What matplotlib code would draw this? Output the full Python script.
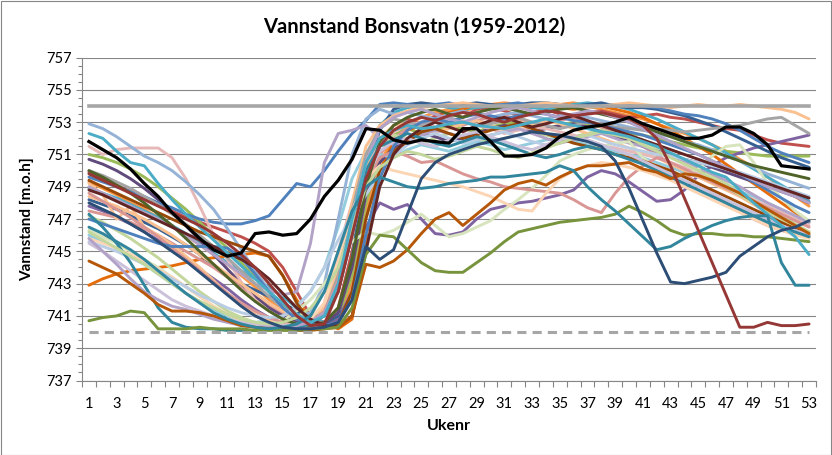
import matplotlib
matplotlib.use("Agg")
import matplotlib.pyplot as plt
from matplotlib.patches import Rectangle
import numpy as np

weeks = list(range(1, 54))
x_labels = [str(w) for w in range(1, 54, 2)]
title = "Vannstand Bonsvatn (1959-2012)"
y_label = "Vannstand [m.o.h]"
x_label = "Ukenr"
hrv = 754.0
lrv = 740.0

s01 = [749.8, 749.4, 749.0, 748.6, 748.2, 747.8, 747.4, 747.0, 746.6, 746.1,
       745.5, 744.8, 744.0, 743.0, 742.0, 741.0, 740.4, 740.5, 742.5, 746.0,
       749.5, 751.5, 752.5, 753.0, 753.3, 753.1, 753.4, 753.6, 753.5, 753.2,
       753.0, 753.3, 753.5, 753.7, 753.6, 753.4, 753.5, 753.6, 753.4, 753.2,
       752.8, 752.0, 750.3, 748.3, 746.3, 744.3, 742.3, 740.3, 740.3, 740.6,
       740.4, 740.4, 740.5]
s02 = [748.0, 747.6, 747.2, 746.7, 746.2, 745.6, 745.0, 744.4, 743.7, 743.0,
       742.3, 741.6, 741.0, 740.6, 740.3, 740.2, 740.2, 740.3, 740.6, 742.0,
       745.3, 744.5, 745.1, 747.3, 749.5, 750.5, 751.0, 751.3, 751.6, 751.8,
       752.0, 752.2, 752.4, 752.3, 752.2, 752.0, 751.8, 751.5, 750.6, 748.9,
       746.9, 744.9, 743.1, 743.0, 743.2, 743.4, 743.7, 744.7, 745.3, 745.9,
       746.3, 746.5, 746.9]
s03 = [746.5, 746.1, 745.6, 745.1, 744.5, 743.8, 743.1, 742.4, 741.8, 741.2,
       740.8, 740.5, 740.3, 740.2, 740.3, 740.5, 741.0, 742.5, 745.0, 747.5,
       749.0, 749.6, 749.3, 749.0, 748.9, 749.0, 749.2, 749.3, 749.4, 749.6,
       749.6, 749.7, 749.8, 749.9, 750.3, 750.0, 749.0, 748.2, 747.5, 746.7,
       745.9, 745.1, 745.3, 745.8, 746.2, 746.6, 746.9, 747.1, 747.2, 747.2,
       744.3, 742.9, 742.9]
s04 = [752.3, 752.0, 751.2, 750.5, 750.3, 749.2, 748.2, 747.3, 746.5, 745.7,
       744.9, 744.1, 743.3, 742.5, 741.8, 741.1, 740.6, 741.0, 743.0, 747.0,
       750.5, 752.0, 752.5, 752.8, 752.6, 752.7, 752.9, 753.0, 752.8, 752.7,
       752.6, 752.8, 753.0, 753.2, 753.0, 752.8, 752.6, 752.4, 752.3, 752.1,
       751.8, 751.5, 751.1, 750.7, 750.3, 749.9, 749.6, 748.8, 748.0, 747.3,
       746.6, 745.9, 744.8]
s05 = [740.7, 740.9, 741.0, 741.3, 741.2, 740.2, 740.2, 740.2, 740.3, 740.2,
       740.2, 740.2, 740.1, 740.1, 740.1, 740.1, 740.2, 740.2, 740.3, 741.5,
       744.8, 746.0, 745.9, 745.1, 744.3, 743.8, 743.7, 743.7, 744.3, 744.9,
       745.6, 746.2, 746.4, 746.6, 746.8, 746.9, 747.0, 747.1, 747.3, 747.8,
       747.4, 746.9, 746.3, 746.0, 746.1, 746.1, 746.0, 746.0, 745.9, 745.9,
       745.8, 745.7, 745.6]
s06 = [744.4, 744.0, 743.6, 743.0, 742.4, 741.7, 741.3, 741.3, 741.2, 741.0,
       740.7, 740.4, 740.3, 740.2, 740.2, 740.1, 740.1, 740.2, 740.3, 741.0,
       744.2, 744.0, 744.4, 745.1, 746.1, 747.0, 747.4, 746.6, 747.3, 748.0,
       748.8, 749.2, 749.4, 749.1, 749.6, 750.0, 750.3, 750.3, 750.4, 750.5,
       750.1, 749.9, 749.5, 749.8, 749.7, 749.4, 749.0, 748.6, 748.1, 747.6,
       747.1, 746.6, 746.1]
s07 = [742.9, 743.3, 743.6, 743.8, 743.9, 744.0, 744.1, 744.3, 744.5, 744.6,
       744.7, 744.8, 744.9, 744.7, 743.5, 742.0, 740.8, 740.5, 740.2, 740.8,
       745.5, 750.0, 751.8, 752.5, 752.8, 753.2, 753.6, 753.8, 754.1, 754.0,
       753.8, 753.9, 754.0, 754.1, 753.9, 753.8, 753.9, 754.0, 753.8, 753.6,
       753.3, 752.9, 752.5, 752.0, 751.5, 751.0, 750.4, 749.8, 749.2, 748.6,
       748.0, 747.4, 746.8]
s08 = [749.6, 749.3, 749.0, 748.7, 748.4, 748.0, 747.7, 747.3, 747.0, 746.8,
       746.7, 746.7, 746.9, 747.2, 748.2, 749.2, 749.0, 750.0, 751.2, 752.3,
       753.1, 754.1, 754.2, 754.1, 754.0, 754.1, 754.2, 754.0, 754.1, 754.0,
       754.1, 754.2, 754.0, 754.1, 754.1, 754.0, 753.9, 754.0, 754.1, 754.1,
       754.0, 753.9, 753.7, 753.5, 753.4, 753.2, 752.9, 752.5, 752.0, 751.5,
       751.1, 750.8, 750.5]
s09 = [751.5, 751.0, 751.3, 751.4, 751.4, 751.4, 750.8, 749.5, 747.8, 746.0,
       744.5, 743.1, 742.0, 741.3, 740.8, 740.5, 740.6, 741.8, 745.0, 748.0,
       750.5, 751.6, 752.4, 752.8, 753.0, 752.7, 752.9, 753.1, 752.8, 752.6,
       752.3, 752.5, 752.7, 752.6, 752.4, 752.2, 751.9, 751.6, 751.4, 751.2,
       751.0, 750.8, 750.5, 750.2, 749.8, 749.4, 749.0, 748.6, 748.2, 747.8,
       747.4, 747.0, 746.6]
s10 = [752.9, 752.6, 752.1, 751.5, 750.9, 750.5, 750.0, 749.3, 748.5, 747.6,
       746.4, 745.1, 743.8, 742.6, 741.5, 741.0, 741.2, 743.0, 747.0, 751.0,
       753.2, 753.8, 753.5, 753.6, 753.4, 753.2, 753.5, 753.7, 753.4, 753.3,
       753.5, 753.6, 753.4, 753.2, 753.4, 753.5, 753.3, 753.1, 752.9, 752.7,
       752.5, 752.3, 752.1, 751.8, 751.6, 751.3, 750.9, 750.6, 750.2, 749.8,
       749.5, 749.2, 748.9]
s11 = [749.0, 748.6, 748.2, 747.8, 747.4, 747.0, 746.5, 746.0, 745.4, 744.8,
       744.2, 743.6, 743.0, 742.6, 742.3, 742.5, 745.5, 750.5, 752.3, 752.5,
       752.8, 752.0, 751.6, 751.9, 752.2, 752.5, 752.3, 752.1, 751.9, 752.2,
       752.4, 752.6, 752.3, 752.0, 751.7, 751.9, 752.1, 752.3, 752.0, 751.7,
       751.5, 751.2, 750.9, 750.6, 750.2, 749.8, 749.4, 749.0, 748.5, 748.0,
       747.6, 747.2, 746.8]
s12 = [746.3, 745.9, 745.5, 745.0, 744.5, 744.0, 743.4, 742.8, 742.2, 741.6,
       741.1, 740.8, 740.6, 740.5, 740.7, 741.3, 742.0, 743.0, 744.3, 745.6,
       746.2, 746.0, 746.3, 746.8, 747.3, 746.6, 745.9, 746.1, 746.5, 746.9,
       747.6, 748.2, 748.9, 749.7, 750.6, 751.0, 751.3, 751.5, 751.7, 751.8,
       750.8, 750.2, 749.8, 749.7, 750.1, 750.9, 751.5, 751.6, 750.5, 749.2,
       748.3, 747.5, 746.9]
s13 = [747.8, 747.5, 747.1, 746.7, 746.2, 745.7, 745.1, 744.5, 743.9, 743.3,
       742.7, 742.0, 741.4, 740.9, 740.5, 740.3, 740.2, 740.3, 740.8, 742.5,
       746.5, 748.0, 747.6, 747.9, 747.0, 746.1, 746.0, 746.2, 747.0, 747.6,
       747.8, 748.0, 748.1, 748.3, 748.5, 748.8, 749.6, 750.0, 749.8, 749.3,
       748.7, 748.1, 748.2, 748.8, 749.7, 750.3, 750.8, 751.1, 751.4, 751.6,
       751.8, 752.0, 752.2]
s14 = [748.4, 748.1, 747.8, 747.4, 747.0, 746.5, 746.0, 745.4, 744.8, 744.2,
       743.6, 743.0, 742.4, 741.8, 741.3, 740.9, 740.7, 741.5, 744.0, 748.0,
       751.5, 752.8, 753.4, 753.7, 753.9, 754.0, 754.1, 754.2, 754.1, 754.0,
       753.9, 754.0, 754.1, 754.2, 754.1, 754.0, 753.9, 754.0, 754.1, 754.2,
       754.1, 754.0, 753.9, 754.0, 754.1, 754.0, 754.0, 754.1, 754.0, 753.9,
       753.8, 753.6, 753.2]
s15 = [750.0, 749.7, 749.3, 748.9, 748.4, 747.9, 747.3, 746.7, 746.0, 745.3,
       744.6, 743.8, 743.0, 742.2, 741.5, 741.0, 740.8, 741.2, 743.5, 747.5,
       751.0, 752.6, 753.2, 753.0, 752.8, 753.1, 753.3, 753.0, 752.8, 752.9,
       753.1, 753.3, 753.0, 752.8, 752.6, 752.8, 753.0, 752.9, 752.7, 752.6,
       752.5, 752.6, 752.5, 752.4, 752.5, 752.6, 752.7, 752.8, 753.0, 753.2,
       753.3, 752.8, 752.3]
s16 = [749.9, 749.5, 749.1, 748.7, 748.3, 747.9, 747.5, 747.1, 746.8, 746.5,
       746.2, 745.9, 745.5, 745.0, 744.0, 742.5, 741.0, 740.6, 741.5, 745.0,
       749.0, 751.5, 752.8, 753.2, 752.9, 753.4, 753.6, 753.3, 753.8, 753.9,
       753.7, 753.4, 753.6, 753.8, 753.5, 753.3, 753.6, 753.7, 753.5, 753.3,
       753.4, 753.5, 753.3, 753.2, 753.0, 752.8, 752.6, 752.5, 752.2, 751.9,
       751.7, 751.6, 751.5]
s17 = [751.0, 750.8, 750.5, 750.1, 749.6, 749.0, 748.3, 747.6, 746.8, 746.0,
       745.2, 744.3, 743.4, 742.5, 741.7, 741.0, 740.6, 740.5, 741.0, 743.5,
       748.0, 751.0, 752.2, 752.6, 752.3, 752.5, 752.8, 752.6, 752.4, 752.7,
       752.9, 753.0, 752.8, 752.6, 752.8, 753.0, 752.9, 752.7, 752.5, 752.3,
       752.2, 752.0, 751.8, 751.6, 751.4, 751.3, 751.2, 751.1, 751.0, 750.9,
       750.9, 750.9, 750.9]
s18 = [750.7, 750.4, 750.0, 749.5, 748.9, 748.2, 747.4, 746.6, 745.7, 744.8,
       743.9, 743.0, 742.2, 741.5, 741.0, 740.6, 740.4, 740.5, 741.2, 744.0,
       748.5, 750.5, 751.4, 751.9, 752.3, 752.1, 751.8, 752.0, 752.3, 752.6,
       752.8, 752.6, 752.4, 752.6, 752.8, 752.9, 752.7, 752.4, 752.1, 751.8,
       751.5, 751.2, 751.0, 750.7, 750.5, 750.2, 749.9, 749.6, 749.3, 749.0,
       748.7, 748.4, 748.0]
s19 = [748.6, 748.1, 747.6, 747.1, 746.5, 745.9, 745.2, 744.5, 743.8, 743.1,
       742.4, 741.8, 741.3, 740.9, 740.6, 740.5, 740.6, 741.3, 743.2, 746.5,
       749.5, 750.8, 751.2, 750.9, 750.5, 750.6, 750.2, 749.8, 749.5, 749.3,
       749.0, 748.9, 748.8, 748.7, 748.6, 748.2, 747.7, 747.4, 748.6, 749.6,
       750.3, 750.8, 750.5, 750.1, 749.7, 749.3, 748.9, 748.5, 748.1, 747.7,
       747.3, 746.9, 746.5]
s20 = [745.8, 745.5, 745.2, 744.8, 744.4, 743.9, 743.4, 742.8, 742.2, 741.6,
       741.1, 740.7, 740.5, 740.4, 740.4, 740.5, 740.8, 741.8, 744.5, 747.5,
       749.5, 750.3, 750.0, 749.8, 749.6, 749.4, 749.2, 749.0, 748.7, 748.4,
       748.0, 747.6, 747.5, 748.6, 749.5, 750.0, 750.3, 750.5, 750.4, 750.2,
       750.0, 749.7, 749.4, 749.0, 748.6, 748.2, 747.8, 747.4, 747.0, 746.6,
       746.3, 746.0, 745.8]
s21 = [749.3, 748.9, 748.5, 748.0, 747.6, 747.1, 746.6, 746.0, 745.4, 744.8,
       744.2, 743.5, 742.8, 742.0, 741.3, 740.8, 740.5, 740.4, 740.8, 743.0,
       747.5, 750.5, 752.0, 752.8, 753.3, 753.6, 753.8, 753.7, 753.9, 754.1,
       754.2, 754.1, 753.9, 754.0, 754.1, 754.2, 754.0, 753.8, 753.6, 753.4,
       753.2, 752.9, 752.6, 752.3, 752.0, 751.6, 751.2, 750.7, 750.2, 749.6,
       749.0, 748.4, 747.8]
s22 = [746.0, 745.6, 745.2, 744.7, 744.2, 743.6, 743.0, 742.4, 741.9, 741.4,
       741.0, 740.7, 740.6, 740.7, 741.0, 741.6, 742.5, 744.0, 746.5, 749.5,
       751.2, 751.0, 750.8, 751.3, 751.6, 751.4, 751.2, 751.5, 751.8, 751.6,
       751.3, 751.5, 751.7, 751.9, 752.0, 751.8, 751.6, 751.4, 751.2, 751.0,
       750.8, 750.5, 750.2, 749.9, 749.6, 749.3, 749.0, 748.7, 748.4, 748.0,
       747.6, 747.2, 746.8]
s23 = [745.6, 745.3, 745.0, 744.6, 744.2, 743.8, 743.3, 742.8, 742.3, 741.9,
       741.5, 741.2, 741.0, 740.9, 741.0, 741.5, 742.5, 744.0, 745.7, 747.2,
       748.5, 749.8, 750.9, 751.6, 752.0, 752.3, 752.0, 751.7, 751.9, 752.2,
       752.4, 752.1, 751.8, 751.6, 751.8, 752.0, 752.2, 751.9, 751.6, 751.4,
       751.2, 751.0, 750.9, 750.7, 750.5, 750.3, 750.1, 749.9, 749.6, 749.3,
       749.0, 748.7, 748.4]
s24 = [748.2, 747.9, 747.6, 747.2, 746.8, 746.4, 745.9, 745.4, 744.8, 744.1,
       743.5, 743.0, 742.6, 742.2, 741.8, 741.3, 740.8, 740.5, 741.0, 744.5,
       749.8, 752.5, 753.8, 754.1, 754.2, 754.1, 754.0, 754.1, 754.2, 754.1,
       754.0, 754.1, 754.2, 754.2, 754.1, 754.0, 754.1, 754.2, 754.0, 753.9,
       753.9, 753.8, 753.6, 753.4, 753.1, 752.8, 752.4, 752.0, 751.6, 751.2,
       750.8, 750.5, 750.2]
s25 = [747.2, 746.8, 746.3, 745.8, 745.2, 744.6, 743.9, 743.2, 742.5, 741.9,
       741.3, 740.9, 740.6, 740.4, 740.3, 740.4, 740.7, 741.5, 743.5, 747.0,
       750.0, 751.5, 752.2, 752.0, 751.7, 752.0, 752.3, 752.1, 751.9, 751.8,
       752.0, 752.2, 752.4, 752.2, 752.0, 752.1, 752.3, 752.5, 752.3, 752.1,
       751.8, 751.4, 751.0, 750.6, 750.2, 749.7, 749.2, 748.7, 748.2, 747.7,
       747.2, 746.7, 746.2]
s26 = [749.4, 749.0, 748.6, 748.2, 747.8, 747.4, 747.0, 746.6, 746.2, 745.9,
       745.6, 745.3, 745.0, 744.7, 743.5, 741.8, 740.6, 740.3, 740.5, 742.5,
       747.0, 750.0, 751.2, 751.8, 752.4, 752.6, 752.3, 752.0, 752.2, 752.5,
       752.7, 752.9, 752.6, 752.3, 752.0, 751.7, 751.5, 751.3, 751.0, 750.8,
       750.6, 750.3, 750.0, 749.6, 749.2, 748.8, 748.4, 748.0, 747.6, 747.2,
       746.8, 746.4, 746.0]
s27 = [745.5, 745.0, 744.4, 743.8, 743.2, 742.6, 742.0, 741.6, 741.3, 741.0,
       740.8, 740.6, 740.5, 740.4, 740.4, 740.5, 740.6, 741.0, 742.5, 746.0,
       749.5, 751.2, 751.8, 752.0, 751.7, 751.5, 751.9, 752.2, 752.4, 752.1,
       751.8, 751.5, 751.3, 751.6, 751.9, 752.1, 751.9, 751.6, 751.3, 751.0,
       750.6, 750.2, 749.8, 749.4, 749.0, 748.6, 748.2, 747.8, 747.4, 747.0,
       746.6, 746.3, 746.0]
s28 = [748.9, 748.6, 748.3, 747.9, 747.5, 747.1, 746.6, 746.1, 745.5, 744.9,
       744.3, 743.8, 743.3, 742.8, 742.2, 741.5, 740.9, 740.6, 741.2, 744.5,
       750.0, 752.8, 753.6, 753.9, 754.0, 754.1, 753.9, 753.8, 753.9, 754.0,
       754.1, 754.0, 753.9, 753.8, 753.9, 754.1, 754.2, 754.1, 754.0, 753.8,
       753.5, 753.2, 752.8, 752.4, 752.0, 751.6, 751.1, 750.6, 750.1, 749.6,
       749.1, 748.6, 748.1]
s29 = [747.5, 747.3, 747.1, 746.8, 746.4, 746.0, 745.5, 745.0, 744.5, 744.0,
       743.4, 742.8, 742.2, 741.6, 741.1, 740.7, 740.5, 740.6, 741.2, 744.0,
       748.5, 751.0, 752.0, 752.6, 753.0, 753.2, 753.0, 752.8, 753.1, 753.3,
       753.4, 753.2, 753.0, 752.9, 753.1, 753.3, 753.0, 752.7, 752.4, 752.0,
       751.5, 751.0, 750.4, 749.8, 749.2, 748.6, 748.0, 747.5, 747.0, 746.6,
       746.3, 746.1, 745.9]
s30 = [747.0, 746.7, 746.4, 746.1, 745.8, 745.5, 745.3, 745.3, 745.3, 745.3,
       745.2, 744.6, 743.6, 742.5, 741.5, 740.8, 740.5, 740.4, 740.6, 742.0,
       746.0, 749.5, 751.5, 752.5, 753.0, 753.2, 753.0, 753.3, 753.5, 753.4,
       753.2, 753.4, 753.6, 753.5, 753.3, 753.1, 753.0, 752.8, 752.6, 752.4,
       752.2, 751.9, 751.6, 751.3, 751.0, 750.6, 750.2, 749.8, 749.3, 748.8,
       748.3, 747.8, 747.4]
s31 = [750.0, 749.6, 749.1, 748.6, 748.0, 747.3, 746.6, 745.8, 745.0, 744.2,
       743.4, 742.6, 741.9, 741.3, 740.8, 740.5, 740.4, 740.6, 741.5, 744.5,
       749.0, 751.8, 752.8, 753.3, 753.6, 753.8, 753.5, 753.3, 753.6, 753.8,
       753.9, 753.7, 753.5, 753.6, 753.8, 753.9, 753.7, 753.5, 753.3, 753.0,
       752.7, 752.4, 752.1, 751.8, 751.5, 751.2, 750.9, 750.6, 750.3, 750.1,
       749.9, 749.7, 749.5]
s32 = [749.2, 748.5, 747.0, 747.8, 746.5, 746.0, 745.4, 744.7, 744.0, 743.2,
       742.4, 741.7, 741.1, 740.7, 740.5, 740.4, 740.5, 741.0, 742.5, 746.0,
       750.0, 752.0, 752.8, 753.0, 752.7, 752.4, 752.6, 752.9, 753.1, 752.8,
       752.5, 752.7, 752.9, 753.1, 752.9, 752.6, 752.3, 752.0, 751.7, 751.4,
       751.1, 750.8, 750.4, 750.0, 749.6, 749.2, 748.8, 748.4, 747.9, 747.4,
       746.9, 746.5, 746.2]
s33 = [747.3, 746.5, 745.5, 744.3, 742.9, 741.5, 740.6, 740.3, 740.2, 740.2,
       740.1, 740.1, 740.1, 740.2, 740.2, 740.3, 740.5, 741.0, 742.5, 746.0,
       750.0, 751.5, 751.9, 752.3, 752.0, 751.7, 751.5, 751.8, 752.1, 751.9,
       751.6, 751.3, 751.0, 750.8, 751.0, 751.3, 751.5, 751.3, 751.0, 750.7,
       750.4, 750.0, 749.6, 749.2, 748.8, 748.4, 748.0, 747.6, 747.2, 746.8,
       746.5, 746.2, 745.9]
s34 = [745.8, 745.0, 744.2, 743.3, 742.5, 742.0, 741.6, 741.4, 741.1, 740.8,
       740.6, 740.4, 740.3, 740.3, 740.3, 740.4, 740.6, 741.2, 743.0, 747.0,
       750.5, 752.6, 753.3, 753.6, 753.8, 753.5, 753.2, 753.0, 753.3, 753.6,
       753.8, 753.9, 753.7, 753.5, 753.3, 753.5, 753.7, 753.6, 753.3, 753.0,
       752.6, 752.2, 751.8, 751.4, 751.0, 750.6, 750.2, 749.8, 749.4, 749.0,
       748.7, 748.4, 748.0]
s35 = [746.2, 745.7, 745.2, 744.7, 744.2, 743.6, 743.0, 742.4, 741.9, 741.5,
       741.1, 740.8, 740.6, 740.5, 740.6, 740.9, 741.5, 742.5, 744.0, 746.5,
       749.0, 750.2, 750.8, 751.2, 751.0, 750.7, 750.9, 751.2, 751.5, 751.3,
       751.0, 750.8, 751.1, 751.4, 751.7, 752.0, 752.2, 752.4, 752.2, 752.0,
       751.6, 751.2, 750.8, 750.4, 750.0, 749.5, 749.0, 748.5, 748.0, 747.5,
       747.0, 746.6, 746.2]
s36 = [748.8, 748.5, 748.1, 747.7, 747.3, 746.9, 746.5, 746.1, 745.7, 745.3,
       744.9, 744.5, 744.0, 743.3, 742.4, 741.5, 740.8, 740.4, 740.3, 741.0,
       745.0, 749.0, 751.0, 752.0, 752.6, 753.0, 752.7, 752.4, 752.8, 753.1,
       753.3, 753.0, 752.7, 752.9, 753.2, 753.4, 753.1, 752.8, 752.5, 752.2,
       751.9, 751.6, 751.3, 751.0, 750.7, 750.4, 750.1, 749.8, 749.5, 749.2,
       748.9, 748.6, 748.3]
highlight = [751.8, 751.3, 750.8, 750.1, 749.2, 748.4, 747.4, 746.6, 745.8, 745.1,
             744.7, 744.9, 746.1, 746.2, 746.0, 746.1, 747.0, 748.4, 749.4, 750.7,
             752.6, 752.5, 751.9, 751.7, 751.9, 751.8, 751.7, 752.6, 752.6, 751.8,
             750.9, 750.9, 751.0, 751.4, 752.1, 752.5, 752.7, 752.8, 753.0, 753.3,
             752.9, 752.6, 752.3, 752.0, 752.0, 752.2, 752.7, 752.7, 752.3, 751.6,
             750.3, 750.2, 750.1]

series = [s21, s16, s17, s13, s28, s07, s24, s29, s25, s18, s22, s32,
          s08, s09, s10, s11, s12, s14, s15, s19, s20, s23, s26, s27,
          s30, s31, s33, s34, s35, s36, s06, s05, s04, s03, s02, s01]
colors = ["#F79646", "#C0504D", "#9BBB59", "#8064A2", "#4BACC6", "#E46C0A",
          "#376092", "#D99694", "#C3D69B", "#604A7B", "#93CDDD", "#FAC090",
          "#4F81BD", "#E6B9B8", "#95B3D7", "#B3A2C7", "#D7E4BD", "#FAC090",
          "#A5A5A5", "#D99694", "#FCD5B5", "#B9CDE5", "#984807", "#CCC1DA",
          "#4F81BD", "#4F6228", "#31859C", "#B3A2C7", "#C3D69B", "#632523",
          "#B65708", "#77933C", "#4BACC6", "#31859C", "#2C4D75", "#953735"]

W, H, DPI = 832, 455, 100
fig = plt.figure(figsize=(W / DPI, H / DPI), dpi=DPI)
fig.patch.set_facecolor("white")
fig.patches.append(Rectangle((0.5 / W, 0.5 / H), 1 - 1.5 / W, 1 - 1.5 / H,
                             transform=fig.transFigure, fill=False,
                             edgecolor="#868686", linewidth=0.8))

ax = fig.add_axes([82 / W, 1 - 380.5 / H, (816 - 82) / W, (380.5 - 57.6) / H])
font = "Lato"

for s, c in zip(series, colors):
    ax.plot(weeks, s, color=c, linewidth=2.1, solid_joinstyle="round",
            solid_capstyle="round", zorder=2)

ax.plot(weeks, [hrv] * len(weeks), color="#A6A6A6", linewidth=2.6, zorder=3)
ax.plot(weeks, [lrv] * len(weeks), color="#A6A6A6", linewidth=2.2,
        dashes=(3, 2), zorder=3)
ax.plot(weeks, highlight, color="black", linewidth=2.3, zorder=4,
        solid_joinstyle="round")

ax.set_xlim(0.5, 53.5)
ax.set_ylim(737, 757)
ax.set_yticks(np.arange(737, 758, 2))
ax.set_yticks(np.arange(737, 757.01, 0.5), minor=True)
ax.set_xticks(list(range(1, 54, 2)))
ax.set_xticklabels(x_labels)
ax.set_xticks(np.arange(0.5, 54, 1), minor=True)
ax.grid(axis="y", which="major", color="#868686", linewidth=0.8, zorder=0)
ax.set_axisbelow(True)
for sp in ["top", "right"]:
    ax.spines[sp].set_visible(False)
for sp in ["left", "bottom"]:
    ax.spines[sp].set_color("#868686")
    ax.spines[sp].set_linewidth(0.8)
ax.tick_params(axis="x", which="major", length=0, pad=12, labelsize=10.5,
               colors="black")
ax.tick_params(axis="x", which="minor", length=4.5, color="#868686", width=0.8)
ax.tick_params(axis="y", which="major", length=4.5, color="#868686", width=0.8,
               labelsize=10.5, pad=3)
ax.tick_params(axis="y", which="minor", length=3, color="#868686", width=0.8)
for lab in ax.get_xticklabels() + ax.get_yticklabels():
    lab.set_fontfamily(font)

fig.text(414 / W, 1 - 27 / H, title, ha="center", va="center",
         fontsize=14.5, fontweight="bold", family=font)
fig.text(27 / W, 1 - 219 / H, y_label, ha="center", va="center", rotation=90,
         fontsize=11, fontweight="bold", family=font)
fig.text(449 / W, 1 - 426 / H, x_label, ha="center", va="center",
         fontsize=11.5, fontweight="bold", family=font)

fig.savefig("out.png", dpi=DPI)
